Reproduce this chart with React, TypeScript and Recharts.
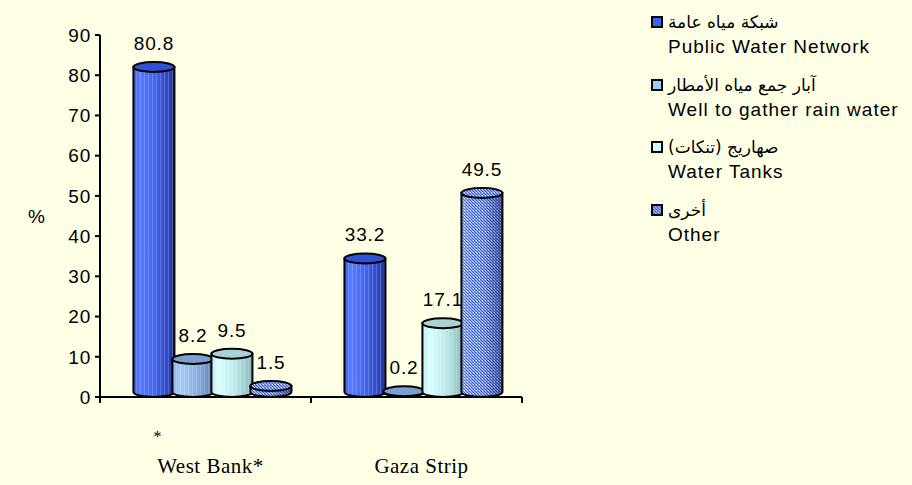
import React from 'react';
import { BarChart, Bar, XAxis, YAxis, LabelList } from 'recharts';

const categories = ['West Bank*', 'Gaza Strip'];
const publicNetwork = [80.8, 33.2];
const rainWells = [8.2, 0.2];
const waterTanks = [9.5, 17.1];
const otherSources = [1.5, 49.5];
const yTicks = [0, 10, 20, 30, 40, 50, 60, 70, 80, 90];

const seriesKeys = ['pub', 'well', 'tank', 'other'];
const seriesAr = ['شبكة مياه عامة', 'آبار جمع مياه الأمطار', 'صهاريج (تنكات)', 'أخرى'];
const seriesEn = ['Public Water Network', 'Well to gather rain water', 'Water Tanks', 'Other'];

const data = categories.map((c, i) => ({
  category: c,
  pub: publicNetwork[i],
  well: rainWells[i],
  tank: waterTanks[i],
  other: otherSources[i],
}));

const BG = '#FFFFE6';
const FONT = '"Liberation Sans", Arial, sans-serif';
const DEPTH = 7;
const RY = 5;

const styles: Record<string, { stops: [number, string][]; top: string; swatch: string }> = {
  pub: {
    stops: [[0, '#3a5cf0'], [0.15, '#5a7cff'], [0.5, '#4466ee'], [0.85, '#2f47c0'], [1, '#203090']],
    top: '#2f52d6',
    swatch: '#3366ff',
  },
  well: {
    stops: [[0, '#8fb5e8'], [0.2, '#a8cbf5'], [0.6, '#8cb0e0'], [1, '#6080b0']],
    top: '#7a9fd0',
    swatch: '#99ccff',
  },
  tank: {
    stops: [[0, '#bff0f0'], [0.2, '#d8ffff'], [0.6, '#b8e8e8'], [1, '#8ab8b8']],
    top: '#a6d4d4',
    swatch: '#ccffff',
  },
  other: {
    stops: [[0, 'rgba(255,255,255,0.15)'], [0.3, 'rgba(255,255,255,0)'], [0.7, 'rgba(0,0,60,0.15)'], [1, 'rgba(0,0,60,0.45)']],
    top: '#6f8fe0',
    swatch: '#6f8fe0',
  },
};

function makeCylinder(key: string) {
  return (props: any) => {
    const { x, y, width, height, index } = props;
    if (x == null || y == null) return null;
    const st = styles[key];
    const id = `${key}-${index}`;
    const x0 = x + DEPTH - 1;
    const x1 = x + width + DEPTH + 1;
    const rx = (x1 - x0) / 2;
    const cx = (x0 + x1) / 2;
    const top = y - RY;
    const bottom = y + height - RY;
    const body = `M${x0},${top} L${x0},${bottom} A${rx},${RY} 0 0 0 ${x1},${bottom} L${x1},${top} Z`;
    return (
      <g>
        <defs>
          <linearGradient id={`g-${id}`} x1="0" y1="0" x2="1" y2="0">
            {st.stops.map(([o, c], k) => (
              <stop key={k} offset={o} stopColor={c} />
            ))}
          </linearGradient>
          <pattern id={`s-${id}`} width="4" height="10" patternUnits="userSpaceOnUse">
            <rect x="0" y="0" width="1" height="10" fill="#ffffff" opacity="0.18" />
          </pattern>
          <pattern id={`h-${id}`} width="3" height="3" patternUnits="userSpaceOnUse">
            <rect width="3" height="3" fill="#8aa6ec" />
            <rect x="0" y="0" width="1" height="1" fill="#3f5fc8" />
            <rect x="1" y="1" width="1" height="1" fill="#3f5fc8" />
            <rect x="2" y="2" width="1" height="1" fill="#3f5fc8" />
            <rect x="2" y="0" width="1" height="1" fill="#dfe8ff" />
          </pattern>
        </defs>
        {key === 'other' ? (
          <>
            <path d={body} fill={`url(#h-${id})`} />
            <path d={body} fill={`url(#g-${id})`} stroke="#000" strokeWidth={2} />
            <ellipse cx={cx} cy={top} rx={rx} ry={RY} fill={`url(#h-${id})`} stroke="#000" strokeWidth={2} />
          </>
        ) : (
          <>
            <path d={body} fill={`url(#g-${id})`} />
            <path d={body} fill={`url(#s-${id})`} stroke="#000" strokeWidth={2} />
            <ellipse cx={cx} cy={top} rx={rx} ry={RY} fill={st.top} stroke="#000" strokeWidth={2} />
          </>
        )}
      </g>
    );
  };
}

const valueLabel = (props: any) => {
  const { x, y, width, value } = props;
  return (
    <text
      x={x + width / 2 + DEPTH}
      y={y - 22}
      textAnchor="middle"
      fontSize={19}
      letterSpacing={0.8}
      fontFamily={FONT}
      fill="#000"
    >
      {value}
    </text>
  );
};

const CategoryTick = (props: any) => {
  const { x, y, payload, index } = props;
  const half = payload && payload.offset ? payload.offset : 105.5;
  return (
    <g>
      {index === 0 && <line x1={x - half} y1={y} x2={x - half} y2={y + 6} stroke="#000" strokeWidth={2} />}
      <line x1={x + half} y1={y} x2={x + half} y2={y + 6} stroke="#000" strokeWidth={2} />
      {index === 0 && (
        <text x={x - 52} y={y + 45} fontFamily='"Liberation Serif", "Times New Roman", serif' fontSize={16} fill="#000">
          *
        </text>
      )}
      <text
        x={x + 5}
        y={y + 76}
        textAnchor="middle"
        fontFamily='"Liberation Serif", "Times New Roman", serif'
        fontSize={21}
        letterSpacing={0.5}
        fill="#000"
      >
        {payload.value}
      </text>
    </g>
  );
};

function Swatch({ k }: { k: string }) {
  const st = styles[k];
  return (
    <svg width={12} height={12} style={{ display: 'block' }}>
      <defs>
        <pattern id={`lg-${k}`} width="3" height="3" patternUnits="userSpaceOnUse">
          <rect width="3" height="3" fill="#8aa6ec" />
          <rect x="0" y="0" width="1" height="1" fill="#3f5fc8" />
          <rect x="1" y="1" width="1" height="1" fill="#3f5fc8" />
          <rect x="2" y="2" width="1" height="1" fill="#3f5fc8" />
        </pattern>
      </defs>
      <rect
        x={1}
        y={1}
        width={10}
        height={10}
        fill={k === 'other' ? `url(#lg-${k})` : st.swatch}
        stroke="#000"
        strokeWidth={2}
      />
    </svg>
  );
}

export default function App() {
  return (
    <div style={{ position: 'fixed', left: 0, top: 0, width: 912, height: 485, background: BG, fontFamily: FONT }}>
      <BarChart
        width={912}
        height={485}
        data={data}
        margin={{ top: 35, right: 390, left: 40, bottom: 28 }}
        barCategoryGap="13%"
        barGap={0}
      >
        <XAxis
          dataKey="category"
          axisLine={{ stroke: '#000', strokeWidth: 2 }}
          tickLine={false}
          tickSize={0}
          tickMargin={0}
          height={60}
          interval={0}
          tick={<CategoryTick />}
        />
        <YAxis
          width={60}
          domain={[0, 90]}
          ticks={yTicks}
          interval={0}
          axisLine={{ stroke: '#000', strokeWidth: 2 }}
          tickLine={{ stroke: '#000', strokeWidth: 2 }}
          tickSize={5}
          tickMargin={4}
          tick={{ fill: '#000', fontSize: 19, fontFamily: FONT, letterSpacing: 0.8 }}
          label={{ value: '%', position: 'insideLeft', offset: -12, fill: '#000', fontSize: 19, fontFamily: FONT }}
        />
        {seriesKeys.map((k) => (
          <Bar key={k} dataKey={k} name={seriesEn[seriesKeys.indexOf(k)]} shape={makeCylinder(k)} isAnimationActive={false}>
            <LabelList dataKey={k} content={valueLabel} />
          </Bar>
        ))}
      </BarChart>
      <div style={{ position: 'absolute', left: 651, top: 10, width: 260 }}>
        {seriesKeys.map((k, i) => (
          <div key={k} style={{ height: 62.7 }}>
            <div style={{ display: 'flex', alignItems: 'center', height: 24 }}>
              <Swatch k={k} />
              <span
                dir="rtl"
                style={{ marginLeft: 5, fontFamily: '"DejaVu Sans", sans-serif', fontSize: 17, color: '#000' }}
              >
                {seriesAr[i]}
              </span>
            </div>
            <div style={{ paddingLeft: 17, fontSize: 19, letterSpacing: 1, lineHeight: '26px', color: '#000', whiteSpace: 'nowrap' }}>
              {seriesEn[i]}
            </div>
          </div>
        ))}
      </div>
    </div>
  );
}
